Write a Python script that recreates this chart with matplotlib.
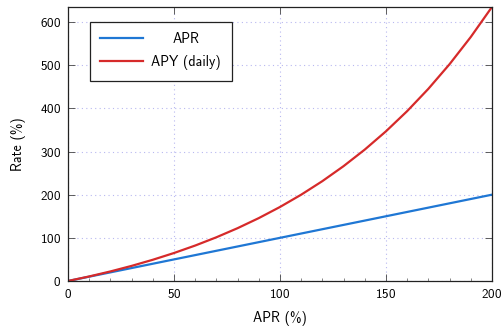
import matplotlib
matplotlib.use("Agg")
import matplotlib.pyplot as plt
from matplotlib.ticker import MultipleLocator

# APR grid (%) and the corresponding rates
apr = [0, 10, 20, 30, 40, 50, 60, 70, 80, 90, 100,
       110, 120, 130, 140, 150, 160, 170, 180, 190, 200]
apr_rate = apr
apy_daily = [0.0, 10.52, 22.13, 34.97, 49.15, 64.82, 82.12, 101.24, 122.36,
             145.69, 171.46, 199.92, 231.36, 266.08, 304.43, 346.79, 393.57,
             445.23, 502.29, 565.29, 634.87]

xticks = [0, 50, 100, 150, 200]
yticks = [0, 100, 200, 300, 400, 500, 600]

plt.rcParams["font.family"] = ["cmss10", "DejaVu Sans"]
plt.rcParams["axes.formatter.use_mathtext"] = True
plt.rcParams["font.size"] = 9.5

fig = plt.figure(figsize=(5.03, 3.26), dpi=100)
ax = fig.add_axes([0.135, 0.138, 0.843, 0.8405])

ax.plot(apr, apr_rate, color="#1f77d4", lw=1.6, label="APR")
ax.plot(apr, apy_daily, color="#d62a2a", lw=1.6, label="APY (daily)")

ax.set_xlim(0, 200)
ax.set_ylim(0, max(apy_daily))
ax.set_xticks(xticks)
ax.set_yticks(yticks)
ax.xaxis.set_minor_locator(MultipleLocator(10))

ax.grid(True, which="major", color="#b8b8f0", linestyle=(0, (1, 3)), lw=0.8)
ax.tick_params(which="major", direction="in", length=5, width=0.6,
               top=True, right=True, color="#444444", labelsize=9.5, pad=5)
ax.tick_params(which="minor", direction="in", length=2.5, width=0.5,
               top=False, bottom=True, color="#555555")
for s in ax.spines.values():
    s.set_linewidth(0.9)
    s.set_color("#222222")

ax.set_xlabel("APR (%)", fontsize=10, labelpad=7)
ax.set_ylabel("Rate (%)", fontsize=10, labelpad=10)

leg = ax.legend(loc="upper left", bbox_to_anchor=(0.035, 0.971),
                fancybox=False, edgecolor="#222222", framealpha=1,
                handlelength=3.1, handletextpad=0.6, borderpad=0.75,
                labelspacing=0.65, fontsize=10)
leg.get_frame().set_linewidth(0.9)

# center the shorter label over the longer one
fig.canvas.draw()
t0, t1 = leg.get_texts()
w0 = t0.get_window_extent().width
w1 = t1.get_window_extent().width
t0.set_x((w1 - w0) / 2)

fig.savefig("out.png", dpi=100)
